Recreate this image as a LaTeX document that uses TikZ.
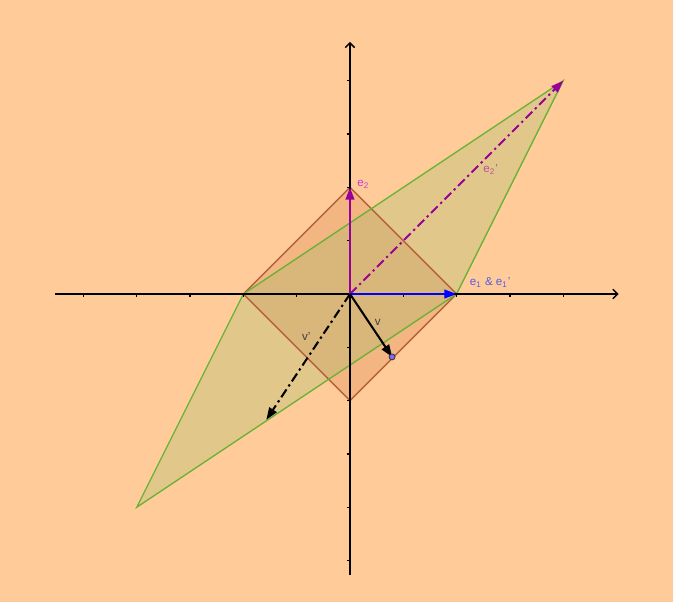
\documentclass[tikz,border=0pt]{standalone}
\usepackage{fontspec}
\setmainfont{Liberation Sans}
\usetikzlibrary{arrows.meta}
\definecolor{bg}{RGB}{255,204,153}
\definecolor{sqfill}{RGB}{204,102,51}
\definecolor{sqline}{RGB}{181,96,58}
\definecolor{pgfillc}{RGB}{143,188,101}
\definecolor{pgline}{RGB}{102,178,51}
\definecolor{vpurple}{RGB}{153,0,153}
\definecolor{lpurple}{RGB}{200,60,200}
\definecolor{lpink}{RGB}{190,80,160}
\definecolor{lblue}{RGB}{90,90,230}
\definecolor{ptblue}{RGB}{110,110,255}
\tikzset{
  axisline/.style={line width=0.8pt, -{Straight Barb[length=2.5pt,width=5pt]}},
  tickmark/.style={line width=0.7pt},
  vecarrow/.style={line width=1.1pt, -{Triangle[length=6.5pt,width=4.6pt]}},
  dashdot/.style={dash pattern=on 5pt off 2pt on 1.2pt off 2pt},
  lbl/.style={font=\fontsize{6.2}{7}\selectfont, inner sep=0pt},
}
\begin{document}
\begin{tikzpicture}[x=1cm,y=1cm]
% background and bounding box
\fill[bg] (-6.566,-5.779) rectangle (6.06,5.516);
\useasboundingbox (-6.566,-5.779) rectangle (6.06,5.516);
% vertices
\coordinate (O) at (0,0);
\coordinate (E1) at (2,0);
\coordinate (E2) at (0,2);
\coordinate (W) at (-2,0);
\coordinate (S) at (0,-2);
\coordinate (E2p) at (4,4);
\coordinate (Q) at (-4,-4);
\coordinate (V) at (0.79,-1.18);
\coordinate (Vp) at (-1.57,-2.36);
% square
\fill[sqfill, fill opacity=0.22] (E1) -- (E2) -- (W) -- (S) -- cycle;
% parallelogram
\fill[pgfillc, fill opacity=0.25] (W) -- (E2p) -- (E1) -- (Q) -- cycle;
\draw[sqline, line width=0.7pt] (E1) -- (E2) -- (W) -- (S) -- cycle;
\draw[pgline, line width=0.7pt] (W) -- (E2p) -- (E1) -- (Q) -- cycle;
% axes
\coordinate (XL) at (-5.53,0);
\coordinate (XR) at (5.04,0);
\coordinate (YB) at (0,-5.27);
\coordinate (YT) at (0,4.73);
\draw[axisline] (XL) -- (XR);
\draw[axisline] (YB) -- (YT);
\foreach \t in {-5,-4,-3,-2,-1,1,2,3,4}{
  \draw[tickmark] (\t,0) -- (\t,-0.06);
}
\foreach \t in {-5,-4,-3,-2,-1,1,2,3,4}{
  \draw[tickmark] (0,\t) -- (-0.06,\t);
}
% vectors
\draw[vecarrow, vpurple, dashdot] (O) -- (E2p);
\draw[vecarrow, black, dashdot] (O) -- (Vp);
\draw[vecarrow, vpurple] (O) -- (E2);
\draw[vecarrow, blue] (O) -- (E1);
\draw[vecarrow, black] (O) -- (V);
\fill[ptblue, draw=sqline!40!black, line width=0.4pt] (V) circle (1.6pt);
% labels
\node[lbl, text=lpurple] (le2) at (0.25,2.05) {e\textsubscript{2}};
\node[lbl, text=lpink] (le2p) at (2.64,2.33) {e\textsubscript{2}'};
\node[lbl, text=lblue] (le1) at (2.63,0.21) {e\textsubscript{1} \& e\textsubscript{1}'};
\node[lbl, text=black!75] (lv) at (0.52,-0.53) {v};
\node[lbl, text=black!75] (lvp) at (-0.82,-0.80) {v'};
\end{tikzpicture}
\end{document}
